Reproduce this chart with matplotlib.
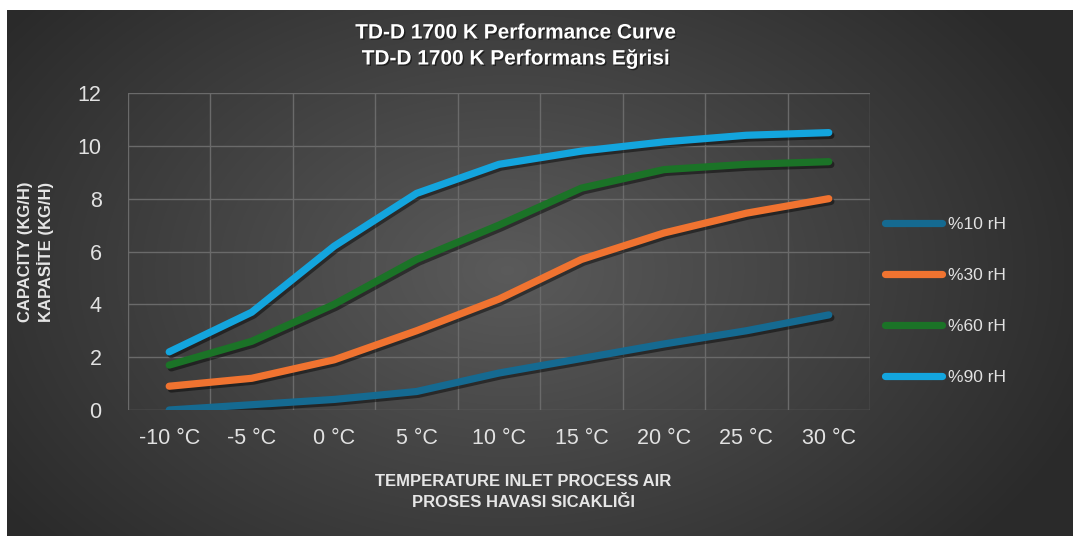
import numpy as np
import matplotlib
matplotlib.use("Agg")
from matplotlib import pyplot as plt
from matplotlib import patheffects as pe

temps = ["-10 °C", "-5 °C", "0 °C", "5 °C", "10 °C", "15 °C", "20 °C", "25 °C", "30 °C"]
rh10 = [0.0, 0.2, 0.4, 0.7, 1.4, 1.95, 2.5, 3.0, 3.6]
rh30 = [0.9, 1.2, 1.9, 3.0, 4.2, 5.7, 6.7, 7.45, 8.0]
rh60 = [1.7, 2.6, 4.0, 5.7, 7.0, 8.4, 9.1, 9.3, 9.4]
rh90 = [2.2, 3.7, 6.2, 8.2, 9.3, 9.8, 10.15, 10.4, 10.5]
labels = ["%10 rH", "%30 rH", "%60 rH", "%90 rH"]
colors = ["#156a91", "#f07330", "#1b7327", "#13a5de"]

W, H = 1073, 536
fig = plt.figure(figsize=(W / 100, H / 100), dpi=100, facecolor="white")

# background with radial gradient
bg = fig.add_axes([7 / W, 0, 1 - 7 / W, 1 - 10 / H])
bg.set_axis_off()
yy, xx = np.mgrid[0:526, 0:1066]
r = np.sqrt(((xx - 500) / 620.0) ** 2 + ((yy - 260) / 420.0) ** 2)
shade = np.clip(0.355 - 0.19 * r, 0.165, 0.355)
bg.imshow(np.dstack([shade] * 3), aspect="auto", extent=[0, 1, 0, 1])
bg.set_xlim(0, 1)
bg.set_ylim(0, 1)

ax = fig.add_axes([128 / W, 1 - 410 / H, 742 / W, 317 / H])
ax.patch.set_alpha(0)
for s in ax.spines.values():
    s.set_visible(False)

x = np.arange(len(temps))
shadow = [pe.SimpleLineShadow(offset=(1.5, -2), shadow_color="black", alpha=0.45), pe.Normal()]
lines = []
for ys, c, lab in zip([rh10, rh30, rh60, rh90], colors, labels):
    ln, = ax.plot(x, ys, color=c, lw=5.2, solid_capstyle="round",
                  solid_joinstyle="round", label=lab, path_effects=shadow, zorder=3)
    lines.append(ln)

ax.set_xlim(-0.5, len(temps) - 0.5)
ax.set_ylim(0, 12)
ax.set_yticks(range(0, 13, 2))
ax.set_xticks(x)
ax.set_xticklabels(temps)
ax.set_xticks(np.arange(-0.5, len(temps)), minor=True)
ax.grid(which="major", axis="y", color="#6a6a6a", lw=1)
ax.grid(which="minor", axis="x", color="#6a6a6a", lw=1)
ax.tick_params(which="both", length=0)
ax.tick_params(axis="x", pad=13)
ax.tick_params(axis="y", pad=19)
for t in ax.get_xticklabels() + ax.get_yticklabels():
    t.set_color("#e2e2e2")
    t.set_fontsize(15.5)
    t.set_family(["Liberation Sans", "DejaVu Sans"])

txt_shadow = [pe.withSimplePatchShadow(offset=(1, -1), shadow_rgbFace="black", alpha=0.5)]
for ty, title in [(33, "TD-D 1700 K Performance Curve"), (59, "TD-D 1700 K Performans Eğrisi")]:
    fig.text(516 / W, 1 - ty / H, title, ha="center", va="center",
             color="white", fontsize=15, fontweight="bold",
             family=["Liberation Sans", "DejaVu Sans"], path_effects=txt_shadow)

fig.text(36 / W, 1 - 252 / H, "CAPACITY (KG/H)\nKAPASİTE (KG/H)", rotation=90, ha="center",
         va="center", color="#e6e6e6", fontsize=12, fontweight="bold", linespacing=1.35,
         family=["Liberation Sans", "DejaVu Sans"])
fig.text(523 / W, 1 - 492 / H, "TEMPERATURE INLET PROCESS AIR\nPROSES HAVASI SICAKLIĞI",
         ha="center", va="center", color="#e6e6e6", fontsize=12, fontweight="bold",
         linespacing=1.55, family=["Liberation Sans", "DejaVu Sans"])

leg = fig.legend(handles=lines, loc="center left", bbox_to_anchor=(885 / W, 1 - 301 / H),
                 frameon=False, handlelength=3.3, handletextpad=0.35,
                 labelspacing=2.05, borderpad=0, borderaxespad=0,
                 prop={"family": ["Liberation Sans", "DejaVu Sans"], "size": 12.5})
for t in leg.get_texts():
    t.set_color("#e2e2e2")
for h in leg.legend_handles:
    h.set_path_effects([])

fig.savefig("out.png", dpi=100, facecolor="white")
